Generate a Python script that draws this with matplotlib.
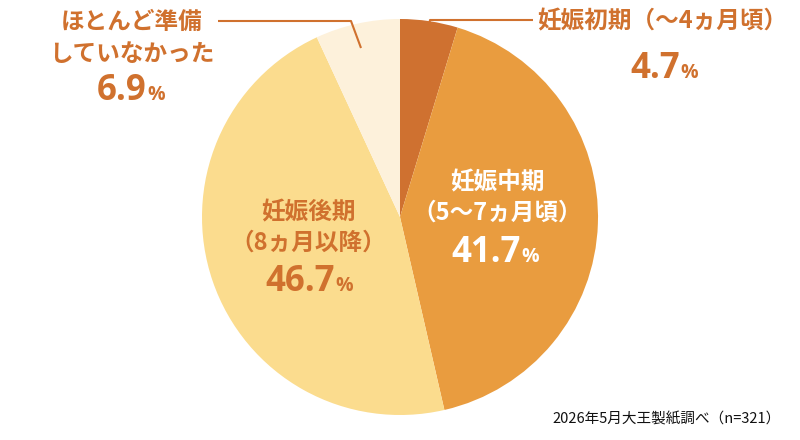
import matplotlib
matplotlib.use("Agg")
import matplotlib.pyplot as plt

plt.rcParams['font.family'] = ['Noto Sans CJK JP', 'DejaVu Sans']

labels = ["妊娠初期（〜4ヵ月頃）", "妊娠中期\n（5〜7ヵ月頃）", "妊娠後期\n（8ヵ月以降）", "ほとんど準備\nしていなかった"]
values = [4.7, 41.7, 46.7, 6.9]
colors = ["#CF7130", "#E99C3F", "#FBDC8E", "#FDF1DB"]
note = "2026年5月大王製紙調べ（n=321）"

TXT = "#D0712E"
H = 440
NUMFONT = ['Open Sans', 'DejaVu Sans']

fig = plt.figure(figsize=(8, 4.4), dpi=100)
ax = fig.add_axes([0, 0, 1, 1])

cx, cy, r = 400, H - 217, 198
ax.pie(values, colors=colors, startangle=90, counterclock=False,
       center=(cx, cy), radius=r, wedgeprops=dict(linewidth=0), frame=True)
ax.set_xlim(0, 800)
ax.set_ylim(0, H)
ax.set_aspect('equal')
ax.axis('off')

def Y(py):
    return H - py

def pct(xr, yb, num, color):
    ax.text(xr, Y(yb), num, ha='right', va='baseline', fontsize=25,
            fontweight='bold', color=color, family=NUMFONT)
    ax.text(xr + 0.5, Y(yb), "%", ha='left', va='baseline', fontsize=14,
            fontweight='bold', color=color, family=NUMFONT)

# slice 1 (outside, right)
ax.text(662, Y(21), labels[0], ha='center', va='center', fontsize=17,
        fontweight='bold', color=TXT)
pct(680, 78, f"{values[0]}", TXT)
ax.plot([429, 430, 533], [Y(25), Y(20), Y(20)], color=TXT, lw=1.5, solid_capstyle='butt')

# slice 2 (inside)
l2 = labels[1].split("\n")
ax.text(497, Y(182), l2[0], ha='center', va='center', fontsize=17, fontweight='bold', color='white')
ax.text(497, Y(213), l2[1], ha='center', va='center', fontsize=17, fontweight='bold', color='white')
pct(521, 262, f"{values[1]}", 'white')

# slice 3 (inside)
l3 = labels[2].split("\n")
ax.text(308, Y(212), l3[0], ha='center', va='center', fontsize=17, fontweight='bold', color=TXT)
ax.text(308, Y(243), l3[1], ha='center', va='center', fontsize=17, fontweight='bold', color=TXT)
pct(335, 291, f"{values[2]}", TXT)

# slice 4 (outside, left)
l4 = labels[3].split("\n")
ax.text(132, Y(22), l4[0], ha='center', va='center', fontsize=17, fontweight='bold', color=TXT)
ax.text(132, Y(54), l4[1], ha='center', va='center', fontsize=17, fontweight='bold', color=TXT)
pct(147, 100, f"{values[3]}", TXT)
ax.plot([218, 351, 361], [Y(21), Y(21), Y(48)], color=TXT, lw=1.5, solid_capstyle='butt')

ax.text(552, Y(419), note, ha='left', va='center', fontsize=10.5, color='#111111')

fig.savefig("out.png", dpi=100)
